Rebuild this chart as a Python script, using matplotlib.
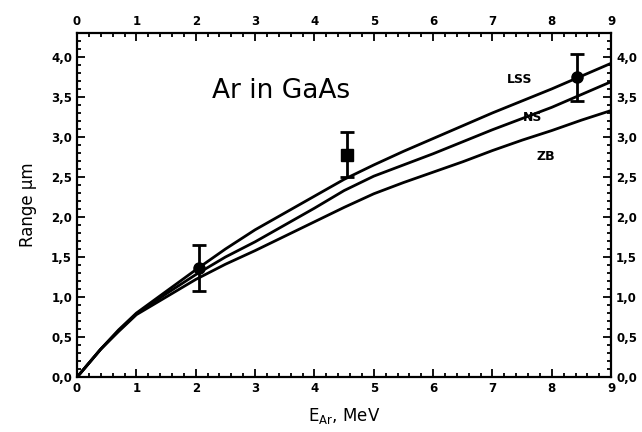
import matplotlib
matplotlib.use("Agg")
import matplotlib.pyplot as plt
from matplotlib.ticker import MultipleLocator, FuncFormatter

# Calculated ranges
energy = [0, 0.4, 0.7, 1, 1.5, 2, 2.5, 3, 3.5, 4, 4.5, 5, 5.5, 6, 6.5, 7, 7.5, 8, 8.5, 9]
range_lss = [0, 0.35, 0.59, 0.80, 1.07, 1.34, 1.60, 1.84, 2.05, 2.26, 2.47, 2.65,
             2.82, 2.98, 3.14, 3.30, 3.45, 3.60, 3.76, 3.92]
range_ns = [0, 0.35, 0.58, 0.79, 1.04, 1.28, 1.50, 1.69, 1.90, 2.11, 2.33, 2.51,
            2.65, 2.79, 2.94, 3.09, 3.23, 3.37, 3.53, 3.69]
range_zb = [0, 0.35, 0.57, 0.78, 1.00, 1.22, 1.41, 1.58, 1.76, 1.94, 2.12, 2.29,
            2.43, 2.56, 2.69, 2.83, 2.96, 3.08, 3.21, 3.33]

# Measured points with error bars
exp_energy = [2.06, 4.55, 8.43]
exp_range = [1.36, 2.77, 3.75]
exp_err_lo = [0.28, 0.27, 0.30]
exp_err_hi = [0.29, 0.29, 0.29]
exp_markers = ["o", "s", "o"]

fig = plt.figure(figsize=(6.42, 4.32), dpi=100)
ax = fig.add_axes([0.120, 0.127, 0.832, 0.797])

for y in (range_lss, range_ns, range_zb):
    ax.plot(energy, y, color="black", lw=2.0)

for x, y, lo, hi, m in zip(exp_energy, exp_range, exp_err_lo, exp_err_hi, exp_markers):
    ax.errorbar([x], [y], yerr=[[lo], [hi]], fmt=m, color="black", ms=8,
                elinewidth=2, capsize=5, capthick=2)

ax.text(3.44, 3.57, "Ar in GaAs", fontsize=19, ha="center", va="center")
ax.text(7.45, 3.72, "LSS", fontsize=9, fontweight="bold", ha="center", va="center")
ax.text(7.67, 3.24, "NS", fontsize=9, fontweight="bold", ha="center", va="center")
ax.text(7.90, 2.76, "ZB", fontsize=9, fontweight="bold", ha="center", va="center")

ax.set_xlim(0, 9)
ax.set_ylim(0, 4.3)
ax.xaxis.set_major_locator(MultipleLocator(1))
ax.xaxis.set_minor_locator(MultipleLocator(0.2))
ax.yaxis.set_major_locator(MultipleLocator(0.5))
ax.yaxis.set_minor_locator(MultipleLocator(0.1))
ax.yaxis.set_major_formatter(FuncFormatter(lambda v, p: f"{v:.1f}".replace(".", ",")))

ax.tick_params(which="both", direction="in", top=True, right=True,
               labeltop=True, labelright=True, width=1.3)
ax.tick_params(which="major", length=6, labelsize=8.5)
ax.tick_params(which="minor", length=3)
for lab in ax.get_xticklabels() + ax.get_yticklabels():
    lab.set_fontweight("bold")
for spine in ax.spines.values():
    spine.set_linewidth(1.6)

ax.set_xlabel(r"E$_{\mathregular{Ar}}$, MeV", fontsize=12, labelpad=8)
ax.set_ylabel("Range \u03bcm", fontsize=12, labelpad=10)

fig.savefig("out.png", dpi=100)
